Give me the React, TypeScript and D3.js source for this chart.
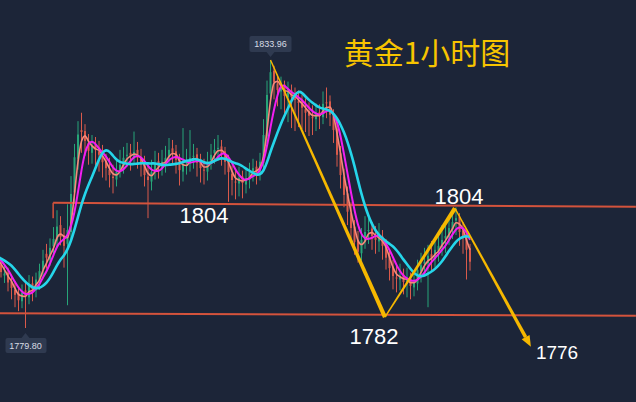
import React from "react";
import * as d3 from "d3";

const W = 636;
const H = 402;
const PRE = 6; // candles before the left edge (history for moving averages)

const opens = [
  1794.0, 1795.3, 1794.0, 1795.8, 1793.2, 1794.6,
  1792.6, 1790.4, 1791.0, 1789.2, 1787.5, 1786.8, 1785.2, 1787.4, 1786.0, 1788.8,
  1787.4, 1789.2, 1791.6, 1794.8, 1793.6, 1796.3, 1797.5, 1800.6, 1798.5, 1796.8,
  1799.2, 1807.2, 1814.0, 1819.8, 1819.6, 1817.2, 1815.2, 1816.9, 1815.5, 1814.4,
  1813.6, 1811.8, 1810.4, 1809.8, 1811.6, 1812.5, 1814.6, 1815.2, 1814.2, 1815.8,
  1814.0, 1813.2, 1810.4, 1809.4, 1811.6, 1813.5, 1812.1, 1813.0, 1814.5, 1816.1,
  1815.5, 1814.1, 1811.4, 1813.1, 1813.0, 1814.5, 1814.9, 1813.5, 1811.8, 1811.4,
  1813.7, 1815.1, 1816.1, 1816.5, 1815.5, 1813.7, 1811.0, 1809.4, 1809.0, 1810.4,
  1808.8, 1809.8, 1811.0, 1812.4, 1811.0, 1813.1, 1818.5, 1827.2, 1831.8, 1829.2,
  1827.6, 1829.0, 1826.4, 1827.8, 1826.2, 1825.6, 1825.6, 1824.0, 1823.6, 1822.4,
  1822.0, 1823.4, 1822.4, 1825.4, 1825.6, 1822.6, 1820.1, 1815.1, 1810.4, 1807.0,
  1803.0, 1800.3, 1797.5, 1794.9, 1797.3, 1799.5, 1799.9, 1798.1, 1797.3, 1798.3,
  1796.7, 1794.3, 1792.2, 1790.0, 1789.6, 1790.6, 1788.8, 1789.8, 1788.0, 1788.8,
  1791.2, 1792.8, 1792.9, 1794.7, 1793.7, 1795.3, 1796.1, 1797.9, 1798.1, 1799.7,
  1801.5, 1802.3, 1799.5, 1798.3, 1795.9,
];
const highs = [
  1795.9, 1796.0, 1796.4, 1796.5, 1795.3, 1795.4,
  1793.8, 1792.6, 1792.0, 1790.4, 1789.3, 1788.0, 1788.6, 1789.2, 1790.5, 1790.2,
  1791.0, 1792.8, 1795.6, 1796.8, 1797.9, 1800.2, 1803.6, 1802.4, 1800.0, 1804.8,
  1810.5, 1817.0, 1821.6, 1823.3, 1821.0, 1819.0, 1818.8, 1818.4, 1817.6, 1816.8,
  1815.0, 1814.2, 1812.8, 1813.6, 1815.8, 1816.4, 1817.2, 1817.0, 1819.5, 1817.4,
  1816.0, 1814.6, 1812.6, 1813.8, 1815.6, 1815.2, 1815.8, 1816.6, 1818.2, 1817.8,
  1816.8, 1815.0, 1820.2, 1816.0, 1819.8, 1817.0, 1816.2, 1815.0, 1814.0, 1815.4,
  1817.0, 1818.0, 1818.8, 1817.8, 1816.4, 1814.8, 1812.6, 1811.8, 1812.4, 1811.6,
  1812.0, 1813.2, 1814.0, 1813.6, 1815.2, 1822.0, 1829.8, 1833.96, 1832.8, 1831.0,
  1830.6, 1829.8, 1829.6, 1829.0, 1828.4, 1827.8, 1827.0, 1826.2, 1825.4, 1824.8,
  1825.2, 1825.0, 1827.6, 1828.4, 1826.8, 1824.0, 1821.2, 1816.6, 1812.0, 1808.4,
  1805.2, 1801.6, 1799.4, 1800.0, 1802.4, 1802.0, 1801.2, 1800.4, 1801.0, 1799.6,
  1797.8, 1795.6, 1793.6, 1792.4, 1792.8, 1791.8, 1792.0, 1791.0, 1791.4, 1793.6,
  1795.0, 1796.0, 1796.6, 1797.4, 1798.0, 1799.0, 1800.6, 1801.4, 1802.6, 1803.4,
  1804.2, 1803.0, 1801.2, 1799.4, 1796.8,
];
const lows = [
  1793.4, 1793.5, 1793.2, 1792.9, 1792.6, 1791.8,
  1790.0, 1788.9, 1787.2, 1785.6, 1784.0, 1783.2, 1783.8, 1779.8, 1784.6, 1785.2,
  1786.0, 1787.5, 1790.2, 1791.8, 1792.4, 1794.6, 1796.2, 1796.5, 1792.0, 1784.4,
  1797.8, 1805.0, 1811.8, 1815.2, 1814.6, 1812.8, 1813.0, 1812.6, 1811.4, 1810.2,
  1809.6, 1808.2, 1807.0, 1808.4, 1810.2, 1811.0, 1812.4, 1811.6, 1812.8, 1812.0,
  1810.4, 1808.4, 1802.0, 1807.6, 1809.8, 1810.0, 1810.6, 1811.2, 1812.6, 1812.8,
  1811.0, 1808.6, 1809.4, 1810.8, 1811.4, 1812.0, 1810.4, 1809.2, 1808.8, 1809.6,
  1811.8, 1813.0, 1813.6, 1812.6, 1810.8, 1805.3, 1806.6, 1805.8, 1806.4, 1806.0,
  1807.0, 1808.0, 1809.4, 1808.8, 1809.6, 1811.8, 1817.0, 1825.0, 1826.0, 1824.6,
  1824.0, 1822.8, 1821.4, 1820.2, 1819.6, 1820.4, 1820.0, 1819.4, 1818.6, 1818.8,
  1819.6, 1820.0, 1821.0, 1822.2, 1820.6, 1817.2, 1812.4, 1808.0, 1804.2, 1800.6,
  1797.4, 1794.6, 1793.0, 1793.4, 1795.8, 1796.8, 1795.6, 1794.8, 1795.2, 1793.6,
  1791.6, 1789.4, 1787.6, 1787.0, 1787.4, 1786.6, 1786.0, 1785.6, 1786.2, 1787.4,
  1789.0, 1790.4, 1784.0, 1791.2, 1792.0, 1793.2, 1794.4, 1795.0, 1796.6, 1797.8,
  1798.6, 1796.4, 1794.8, 1789.6, 1791.4,
];
const closes = [
  1795.0, 1794.2, 1795.6, 1793.6, 1794.4, 1792.8,
  1791.1, 1790.8, 1789.0, 1787.9, 1786.5, 1785.4, 1786.9, 1786.2, 1788.4, 1787.6,
  1789.6, 1791.3, 1793.4, 1794.0, 1796.0, 1797.8, 1800.3, 1798.2, 1796.4, 1799.6,
  1806.9, 1814.3, 1818.9, 1819.4, 1817.6, 1815.6, 1816.6, 1815.8, 1814.8, 1813.3,
  1812.1, 1810.7, 1810.1, 1811.4, 1812.8, 1814.2, 1814.8, 1814.6, 1815.4, 1814.2,
  1812.8, 1810.7, 1809.7, 1811.3, 1813.2, 1812.4, 1813.4, 1814.2, 1815.8, 1815.2,
  1813.8, 1811.7, 1812.8, 1813.4, 1814.2, 1814.6, 1813.2, 1812.1, 1811.7, 1813.4,
  1814.8, 1815.8, 1816.2, 1815.2, 1813.4, 1811.3, 1809.7, 1809.3, 1810.1, 1809.1,
  1810.1, 1811.3, 1812.1, 1811.3, 1813.4, 1818.8, 1826.9, 1831.5, 1829.5, 1827.9,
  1828.7, 1826.7, 1827.5, 1826.5, 1825.9, 1825.3, 1824.3, 1823.3, 1822.7, 1822.3,
  1823.1, 1822.7, 1825.1, 1825.3, 1822.9, 1819.8, 1814.8, 1810.7, 1806.7, 1803.3,
  1800.0, 1797.2, 1795.2, 1797.6, 1799.2, 1799.6, 1798.4, 1797.6, 1798.0, 1796.4,
  1794.0, 1791.9, 1790.3, 1789.9, 1790.3, 1789.1, 1789.5, 1788.3, 1789.1, 1791.5,
  1792.5, 1793.2, 1794.4, 1794.0, 1795.6, 1796.4, 1797.6, 1798.4, 1800.0, 1801.2,
  1802.0, 1799.2, 1798.0, 1795.6, 1793.2,
];

// moving averages: periods and colours
const maPeriods = [3, 5, 10];
const maColors = ["#f7897a", "#f21ef2", "#25d6ea"];
const maWidths = [1.6, 2, 2.6];

// zig-zag forecast (candle index, price)
const zigIdx = [77, 109.7, 129.7, 151.4];
const zigPrice = [1833.96, 1782, 1804, 1776];
const zigLabels = ["", "1782", "1804", "1776"];

// horizontal levels
const upperIdx = [14.9, 181.4];
const upperPrice = [1805.1, 1804.3];
const upperTickPrice = 1802.0;
const lowerIdx = [-0.5, 181.4];
const lowerPrice = [1782.8, 1782.3];
const levelLabelIdx = 58;
const levelLabel = "1804";

const title = "黄金1小时图";
const hiIdx = 77;
const hiText = "1833.96";
const loIdx = 7;
const loText = "1779.80";

const FONT = "'Liberation Sans', Arial, sans-serif";

function taper(x0: number, y0: number, x1: number, y1: number, w0: number, w1: number) {
  const dx = x1 - x0, dy = y1 - y0;
  const L = Math.hypot(dx, dy);
  const nx = -dy / L, ny = dx / L;
  return [
    [x0 + (nx * w0) / 2, y0 + (ny * w0) / 2],
    [x1 + (nx * w1) / 2, y1 + (ny * w1) / 2],
    [x1 - (nx * w1) / 2, y1 - (ny * w1) / 2],
    [x0 - (nx * w0) / 2, y0 - (ny * w0) / 2],
  ]
    .map((p) => p.join(","))
    .join(" ");
}

export default function App() {
  const x = d3.scaleLinear().domain([0, 134]).range([1, 470]);
  const y = d3.scaleLinear().domain([1779.8, 1833.96]).range([328, 60]);
  const xi = (i: number) => x(i - PRE);

  const mas = maPeriods.map((p) =>
    closes.map((_, i) => d3.mean(closes.slice(Math.max(0, i - p + 1), i + 1)) as number)
  );

  const up = "#27a578";
  const down = "#d95a4b";

  const zx = zigIdx.map((v) => x(v));
  const zy = zigPrice.map((v) => y(v));

  // arrow for last leg
  const ax0 = zx[2], ay0 = zy[2], ax1 = zx[3], ay1 = zy[3];
  const aL = Math.hypot(ax1 - ax0, ay1 - ay0);
  const ux = (ax1 - ax0) / aL, uy = (ay1 - ay0) / aL;
  const headLen = 11, headW = 9;
  const bx = ax1 - ux * headLen, by = ay1 - uy * headLen;
  const head = [
    [ax1, ay1],
    [bx - (uy * headW) / 2, by + (ux * headW) / 2],
    [bx + (uy * headW) / 2, by - (ux * headW) / 2],
  ]
    .map((p) => p.join(","))
    .join(" ");

  const gold = "#f6b800";

  const hx = xi(hiIdx + PRE), hy = y(highs[hiIdx + PRE]);
  const lx = xi(loIdx + PRE), ly = y(lows[loIdx + PRE]);

  return (
    <div style={{ position: "fixed", left: 0, top: 0, width: W, height: H }}>
      <svg width={W} height={H} style={{ display: "block", background: "#1c2538" }}>
        <rect x={0} y={0} width={W} height={H} fill="#1c2538" />
        {/* candles */}
        <g>
          {closes.map((c, i) => {
            const o = opens[i];
            const cx = xi(i);
            const col = c >= o ? up : down;
            const top = y(Math.max(o, c));
            const bot = y(Math.min(o, c));
            return (
              <g key={i}>
                <line x1={cx} x2={cx} y1={y(highs[i])} y2={y(lows[i])} stroke={col} strokeWidth={1} />
                <rect x={cx - 1} y={top} width={2} height={Math.max(1, bot - top)} fill={col} />
              </g>
            );
          })}
        </g>
        {/* levels */}
        <line x1={x(upperIdx[0])} y1={y(upperPrice[0])} x2={x(upperIdx[1])} y2={y(upperPrice[1])} stroke="#d4533c" strokeWidth={2} />
        <line x1={x(upperIdx[0])} y1={y(upperPrice[0])} x2={x(upperIdx[0])} y2={y(upperTickPrice)} stroke="#d4533c" strokeWidth={1.5} />
        <line x1={x(lowerIdx[0])} y1={y(lowerPrice[0])} x2={x(lowerIdx[1])} y2={y(lowerPrice[1])} stroke="#d4533c" strokeWidth={2} />
        {/* moving averages */}
        {mas.map((m, k) => {
          const path = d3
            .line<number>()
            .x((_, i) => xi(i))
            .y((v) => y(v))
            .curve(k === 0 ? d3.curveMonotoneX : d3.curveBasis)(m);
          return <path key={k} d={path || ""} fill="none" stroke={maColors[k]} strokeWidth={maWidths[k]} />;
        })}
        {/* zig-zag */}
        <polygon points={taper(zx[0], zy[0], zx[1], zy[1], 1.4, 4.2)} fill={gold} />
        <polygon points={taper(zx[1], zy[1], zx[2], zy[2], 1.4, 4.2)} fill={gold} />
        <polygon points={taper(ax0, ay0, bx, by, 1.4, 3.6)} fill={gold} />
        <polygon points={head} fill={gold} />
        {/* labels */}
        <text x={x(levelLabelIdx)} y={y(upperPrice[0]) + 20} textAnchor="middle" fontFamily={FONT} fontSize={22} fill="#ffffff">{levelLabel}</text>
        <text x={zx[2] + 4} y={zy[2] - 4} textAnchor="middle" fontFamily={FONT} fontSize={22} fill="#ffffff">{zigLabels[2]}</text>
        <text x={zx[1] - 11} y={zy[1] + 27} textAnchor="middle" fontFamily={FONT} fontSize={22} fill="#ffffff">{zigLabels[1]}</text>
        <text x={zx[3] + 5} y={zy[3] + 12} textAnchor="start" fontFamily={FONT} fontSize={19} fill="#ffffff">{zigLabels[3]}</text>
        {/* title */}
        <text x={427} y={64} textAnchor="middle" fontFamily="'Noto Sans CJK SC', sans-serif" fontSize={30} fill="#f7c400">{title}</text>
        {/* high / low tags */}
        <g>
          <rect x={hx - 21} y={hy - 24} width={42} height={16} rx={2} fill="#2f3a50" />
          <polygon points={`${hx - 4},${hy - 8} ${hx + 4},${hy - 8} ${hx},${hy - 3}`} fill="#2f3a50" />
          <text x={hx} y={hy - 13} textAnchor="middle" fontFamily={FONT} fontSize={9} fill="#d8dce4">{hiText}</text>
        </g>
        <g>
          <rect x={lx - 20} y={ly + 10} width={41} height={15} rx={2} fill="#2f3a50" />
          <polygon points={`${lx - 4},${ly + 10} ${lx + 4},${ly + 10} ${lx},${ly + 5}`} fill="#2f3a50" />
          <text x={lx} y={ly + 21} textAnchor="middle" fontFamily={FONT} fontSize={9} fill="#d8dce4">{loText}</text>
        </g>
      </svg>
    </div>
  );
}
